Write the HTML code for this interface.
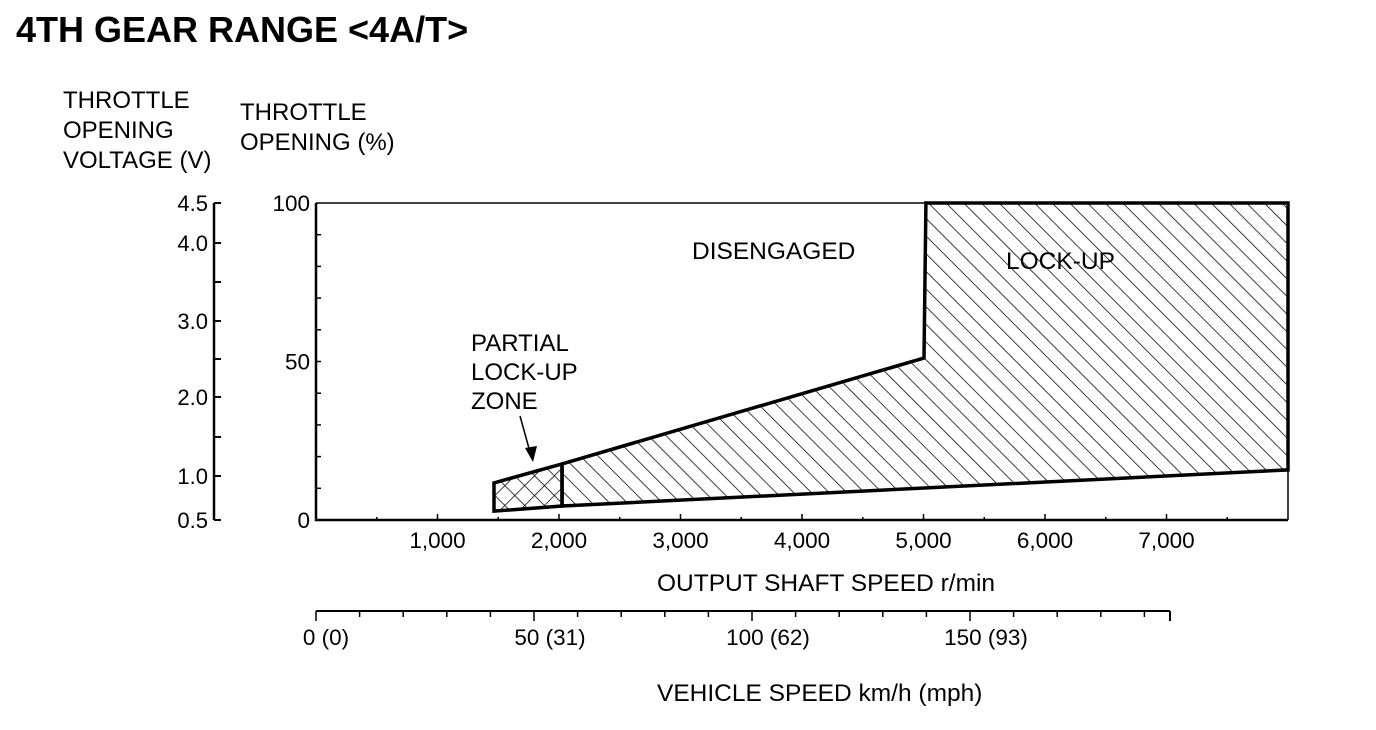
<!DOCTYPE html>
<html><head><meta charset="utf-8"><style>
html,body{margin:0;padding:0;background:#fff;}
svg{display:block;font-family:"Liberation Sans",Arial,sans-serif;}
</style></head><body>
<svg id="c" width="1376" height="730" viewBox="0 0 1376 730" xmlns="http://www.w3.org/2000/svg">
<defs>
<pattern id="hatch" patternUnits="userSpaceOnUse" width="12.5" height="12.5" patternTransform="rotate(-45)">
<line x1="0" y1="0" x2="0" y2="12.5" stroke="#000" stroke-width="1.5"/></pattern>
<pattern id="cross" patternUnits="userSpaceOnUse" width="14" height="14" patternTransform="rotate(45)">
<line x1="0" y1="0" x2="0" y2="14" stroke="#000" stroke-width="1.5"/><line x1="0" y1="0" x2="14" y2="0" stroke="#000" stroke-width="1.5"/></pattern>
</defs>
<text x="16" y="42" font-size="36" font-weight="bold">4TH GEAR RANGE &lt;4A/T&gt;</text>
<g font-size="24"><text x="63" y="108">THROTTLE</text><text x="63" y="138">OPENING</text><text x="63" y="168">VOLTAGE (V)</text></g>
<g font-size="24"><text x="240" y="120">THROTTLE</text><text x="240" y="150">OPENING (%)</text></g>
<text x="657" y="591" font-size="24.5">OUTPUT SHAFT SPEED r/min</text>
<text x="657" y="701" font-size="24.5">VEHICLE SPEED km/h (mph)</text>
<text x="692" y="259" font-size="24.5">DISENGAGED</text>
<g id="plot"></g>
</svg>
<script>
const xTicks=[1000,2000,3000,4000,5000,6000,7000];
const xTickLabels=["1,000","2,000","3,000","4,000","5,000","6,000","7,000"];
const yTicks=[0,50,100];
const voltTicks=[0.5,1.0,2.0,3.0,4.0,4.5];
const speedTicks=[0,50,100,150];
const speedLabels=["0 (0)","50 (31)","100 (62)","150 (93)"];
const lockupX=[2025,5004,5020,8000,8000,2025];
const lockupY=[17.7,51.1,100,100,15.8,4.4];
const partialX=[1465,2025,2025,1465];
const partialY=[11.7,17.7,4.4,2.8];

const X0=316,X1=1288,Y0=520,Y1=203;
const sx=v=>X0+(v/8000)*(X1-X0);
const sy=v=>Y0-(v/100)*(Y0-Y1);
const ss=v=>316+v/50*218;
const NS="http://www.w3.org/2000/svg";
const g=document.getElementById('plot');
function mk(tag,attrs,parent){const e=document.createElementNS(NS,tag);for(const k in attrs)e.setAttribute(k,attrs[k]);(parent||g).appendChild(e);return e;}

let pts=lockupX.map((x,i)=>sx(x)+','+sy(lockupY[i])).join(' ');
let lk=mk('polygon',{points:pts,fill:'url(#hatch)',stroke:'#000','stroke-width':3.5,'stroke-linejoin':'miter'});


pts=partialX.map((x,i)=>sx(x)+','+sy(partialY[i])).join(' ');
let pz=mk('polygon',{points:pts,fill:'url(#cross)',stroke:'#000','stroke-width':3.5});



let fr=mk('path',{d:`M${X0},${Y1} H${X1} V${Y0}`,fill:'none',stroke:'#000','stroke-width':1.5});


let ax=mk('path',{d:`M${X0},${Y1} V${Y0} H${X1}`,fill:'none',stroke:'#000','stroke-width':2.5});


for(let v=10;v<100;v+=10){mk('line',{x1:X0,x2:X0+5,y1:sy(v),y2:sy(v),stroke:'#000','stroke-width':1.5});}
for(let v=500;v<8000;v+=500){mk('line',{x1:sx(v),x2:sx(v),y1:Y0,y2:Y0-(v%1000?3:6),stroke:'#000','stroke-width':1.5});}
xTicks.forEach((v,i)=>{const t=mk('text',{x:sx(v),y:548,'font-size':22.5,'text-anchor':'middle'});t.textContent=xTickLabels[i];

});
yTicks.forEach(v=>{const t=mk('text',{x:310,y:sy(v)+8,'font-size':22.5,'text-anchor':'end'});t.textContent=String(v);

});

let va=mk('line',{x1:214,x2:214,y1:203,y2:520,stroke:'#000','stroke-width':2.5});


const vy={0.5:520,1.0:476,1.5:437,2.0:397,2.5:359,3.0:321,3.5:282,4.0:243,4.5:203};
for(let v=0.5;v<=4.5;v+=0.5){mk('line',{x1:214,x2:221,y1:vy[v],y2:vy[v],stroke:'#000','stroke-width':2});}
voltTicks.forEach(v=>{const t=mk('text',{x:208,y:vy[v]+8,'font-size':22,'text-anchor':'end'});t.textContent=v.toFixed(1);

});

let sa=mk('line',{x1:316,x2:1170,y1:611,y2:611,stroke:'#000','stroke-width':2});


for(let v=0;v*218/50+316<=1171;v+=10){mk('line',{x1:ss(v),x2:ss(v),y1:611,y2:v%50?617:621,stroke:'#000','stroke-width':1.5});}
mk('line',{x1:1170,x2:1170,y1:611,y2:621,stroke:'#000','stroke-width':2});
speedTicks.forEach((v,i)=>{const t=mk('text',{x:ss(v)+(i==0?10:16),y:645,'font-size':22.5,'text-anchor':'middle'});t.textContent=speedLabels[i];

});

let lu=mk('text',{x:1006,y:269,'font-size':24.5});lu.textContent='LOCK-UP';


const pl=['PARTIAL','LOCK-UP','ZONE'];
pl.forEach((s,i)=>{const t=mk('text',{x:471,y:351+i*29,'font-size':24});t.textContent=s;

});
let ar=mk('line',{x1:520,y1:416,x2:530,y2:452,stroke:'#000','stroke-width':1.5});


let ah=mk('polygon',{points:'525,448 537,446 533,462',fill:'#000'});


</script>
</body></html>
